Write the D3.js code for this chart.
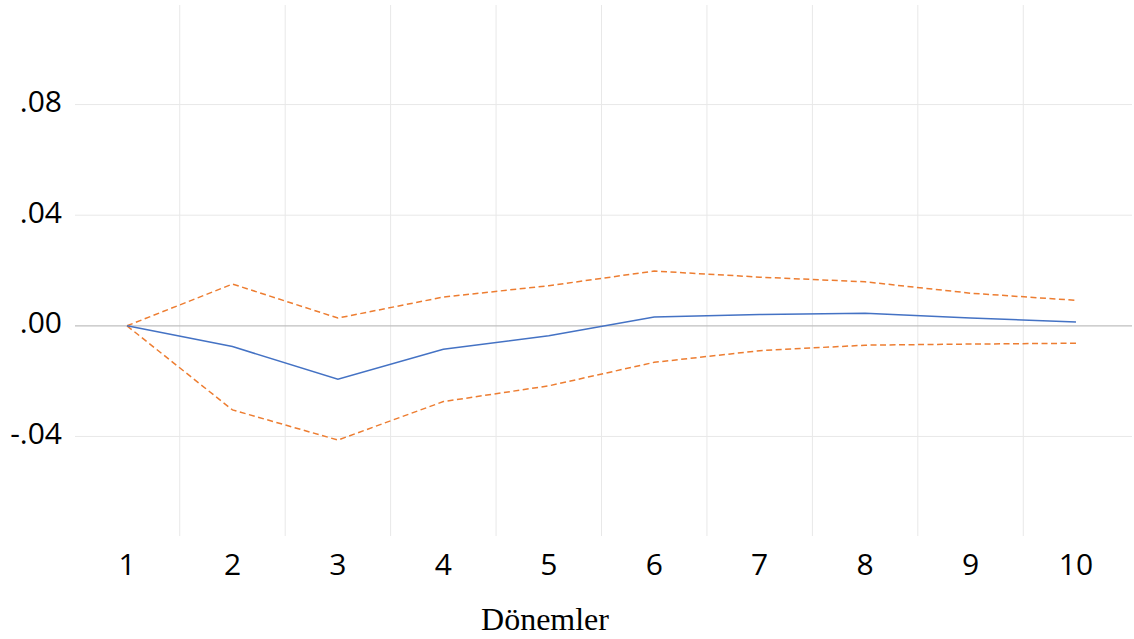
<!DOCTYPE html>
<html>
<head>
<meta charset="utf-8">
<script src="https://cdn.jsdelivr.net/npm/d3@7"></script>
<style>
  html, body { margin: 0; padding: 0; background: #fff; }
  svg { display: block; }
</style>
</head>
<body>
<svg id="chart" width="1134" height="639"></svg>
<script>
const periods = ["1", "2", "3", "4", "5", "6", "7", "8", "9", "10"];
const response = [0.0000, -0.0075, -0.0193, -0.0085, -0.0036, 0.0032, 0.0041, 0.0045, 0.0028, 0.0014];
const upperBand = [0.0000, 0.0151, 0.0028, 0.0104, 0.0145, 0.0198, 0.0176, 0.0159, 0.0118, 0.0092];
const lowerBand = [0.0000, -0.0304, -0.0413, -0.0274, -0.0217, -0.0132, -0.0090, -0.0070, -0.0066, -0.0063];
const yTicks = [-0.04, 0.00, 0.04, 0.08];
const xTitle = "Dönemler";

(function () {
const svg = d3.select("#chart");
const pLeft = 74.3, pRight = 1128.7, pTop = 5, pBottom = 536;

const x = d3.scaleBand().domain(periods).range([pLeft, pRight]).padding(0);
const y = d3.scaleLinear().domain([-0.076, 0.116]).range([pBottom, pTop]);
const cx = d => x(d) + x.bandwidth() / 2;

// vertical gridlines between categories
svg.append("g").selectAll("line")
  .data(periods.slice(1))
  .join("line")
  .attr("x1", d => x(d)).attr("x2", d => x(d))
  .attr("y1", pTop).attr("y2", pBottom)
  .attr("stroke", "#e8e8e8").attr("stroke-width", 1);

// horizontal gridlines
svg.append("g").selectAll("line")
  .data(yTicks.filter(t => t !== 0))
  .join("line")
  .attr("x1", 75).attr("x2", 1132)
  .attr("y1", d => y(d)).attr("y2", d => y(d))
  .attr("stroke", "#e8e8e8").attr("stroke-width", 1);

// zero line
svg.append("line")
  .attr("x1", 75).attr("x2", 1132)
  .attr("y1", y(0)).attr("y2", y(0))
  .attr("stroke", "#bfbfbf").attr("stroke-width", 1.3);

// y tick labels
const fmt = v => {
  const s = d3.format(".2f")(Math.abs(v)).replace(/^0/, "");
  return (v < 0 ? "-" : "") + s;
};
svg.append("g").selectAll("text")
  .data(yTicks)
  .join("text")
  .attr("x", 62).attr("y", d => y(d) + 7.5)
  .attr("text-anchor", "end")
  .attr("font-family", "'Open Sans', sans-serif")
  .attr("font-size", 30)
  .attr("fill", "#000")
  .text(fmt);

// x tick labels
svg.append("g").selectAll("text")
  .data(periods)
  .join("text")
  .attr("x", d => cx(d)).attr("y", 575)
  .attr("text-anchor", "middle")
  .attr("font-family", "'Open Sans', sans-serif")
  .attr("font-size", 30)
  .attr("fill", "#000")
  .text(d => d);

// x title
svg.append("text")
  .attr("x", 545).attr("y", 630)
  .attr("text-anchor", "middle")
  .attr("font-family", "'Liberation Serif', 'Times New Roman', serif")
  .attr("font-size", 32)
  .attr("fill", "#000")
  .text(xTitle);

const line = d3.line().x((d, i) => cx(periods[i])).y(d => y(d));

svg.append("path").datum(upperBand)
  .attr("d", line).attr("fill", "none")
  .attr("stroke", "#ED7D31").attr("stroke-width", 1.5)
  .attr("stroke-dasharray", "6,3.5");

svg.append("path").datum(lowerBand)
  .attr("d", line).attr("fill", "none")
  .attr("stroke", "#ED7D31").attr("stroke-width", 1.5)
  .attr("stroke-dasharray", "6,3.5");

svg.append("path").datum(response)
  .attr("d", line).attr("fill", "none")
  .attr("stroke", "#4472C4").attr("stroke-width", 1.5);
})();
</script>
</body>
</html>
